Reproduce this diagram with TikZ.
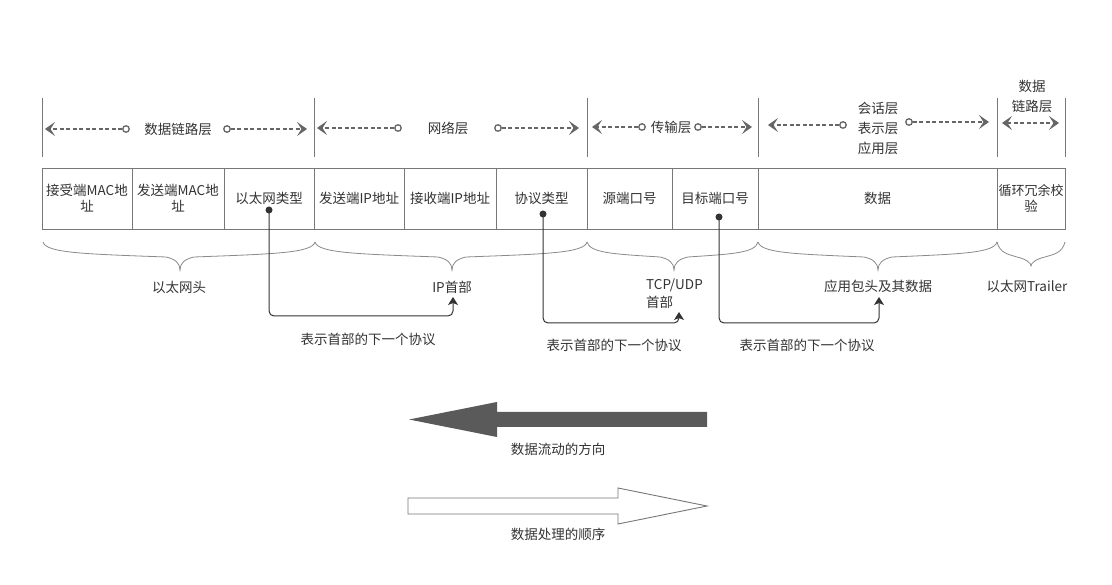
\documentclass[tikz,border=0pt]{standalone}
\usepackage{fontspec}
\setmainfont{Noto Sans CJK SC}
\usetikzlibrary{arrows.meta}
\definecolor{txt}{HTML}{333333}
\definecolor{ln}{HTML}{777777}
\definecolor{dl}{HTML}{666666}
\definecolor{arr}{HTML}{5A5A5A}
\definecolor{brc}{HTML}{8A8A8A}
\newcommand\mybrace[4]{%
\draw[bracel] (#1,242) .. controls ({#1+3},253) and ({#1+0.3*(#2-#1)},254) .. ({#2-14},257) .. controls ({#2-5},259) and (#2,263) .. (#2,#4) .. controls (#2,263) and ({#2+5},259) .. ({#2+14},257) .. controls ({#3-0.3*(#3-#2)},254) and ({#3-3},253) .. (#3,242);}
\begin{document}
\begin{tikzpicture}[x=1pt,y=-1pt,
 every node/.style={font=\fontsize{13.5}{16}\selectfont, text=txt, inner sep=0pt},
 cell/.style={draw=ln, line width=0.9pt, minimum height=61pt, align=center},
 sep/.style={draw=ln, line width=0.9pt},
 tipd/.tip={Stealth[length=10pt,width=14pt,inset=4.5pt]},
 dasharr/.style={draw=dl, line width=1.6pt, dash pattern=on 4pt off 2.5pt, -tipd},
 dasharrb/.style={draw=dl, line width=1.6pt, dash pattern=on 4pt off 2.5pt, tipd-tipd},
 ring/.style={circle, draw=dl, fill=white, line width=1.3pt, minimum size=6.5pt},
 dotn/.style={circle, fill=txt, minimum size=7pt},
 conn/.style={draw=txt, line width=1pt, rounded corners=5pt, -{Stealth[length=8pt,width=10pt,inset=2pt]}},
 bracel/.style={draw=brc, line width=0.8pt},
]
\useasboundingbox (0,0) rectangle (1112,585);
\fill[white] (0,0) rectangle (1112,585);

% layer separators
\foreach \x in {42,314,587,758,997,1065} \draw[sep] (\x,98) -- (\x,157);

% layer labels and arrows
\node (l1) at (178,129) {数据链路层};
\node[ring] (r1a) at (126,129) {}; \coordinate (e1a) at (45,129);
\node[ring] (r1b) at (227,129) {}; \coordinate (e1b) at (307,129);
\draw[dasharr] (r1a) -- (e1a); \draw[dasharr] (r1b) -- (e1b);

\node (l2) at (448,128) {网络层};
\node[ring] (r2a) at (398,128) {}; \coordinate (e2a) at (317,128);
\node[ring] (r2b) at (498,128) {}; \coordinate (e2b) at (579,128);
\draw[dasharr] (r2a) -- (e2a); \draw[dasharr] (r2b) -- (e2b);

\node (l3) at (671,127) {传输层};
\node[ring] (r3a) at (642,127) {}; \coordinate (e3a) at (592,127);
\node[ring] (r3b) at (698,127) {}; \coordinate (e3b) at (752,127);
\draw[dasharr] (r3a) -- (e3a); \draw[dasharr] (r3b) -- (e3b);

\node (l4a) at (878,108) {会话层};
\node (l4b) at (878,128) {表示层};
\node (l4c) at (878,148) {应用层};
\node[ring] (r4a) at (843,125) {}; \coordinate (e4a) at (768,125);
\node[ring] (r4b) at (909,122) {}; \coordinate (e4b) at (989,122);
\draw[dasharr] (r4a) -- (e4a); \draw[dasharr] (r4b) -- (e4b);

\node (l5a) at (1032,86) {数据};
\node (l5b) at (1032,106) {链路层};
\coordinate (e5a) at (1002,123); \coordinate (e5b) at (1059,123);
\draw[dasharrb] (e5a) -- (e5b);

% cells
\node[cell, minimum width=90pt] (c1) at (87,198.5) {接受端MAC地\\址};
\node[cell, minimum width=92pt] (c2) at (178,198.5) {发送端MAC地\\址};
\node[cell, minimum width=90pt] (c3) at (269,198.5) {以太网类型};
\node[cell, minimum width=90pt] (c4) at (359,198.5) {发送端IP地址};
\node[cell, minimum width=92pt] (c5) at (450,198.5) {接收端IP地址};
\node[cell, minimum width=91pt] (c6) at (541.5,198.5) {协议类型};
\node[cell, minimum width=85pt] (c7) at (629.5,198.5) {源端口号};
\node[cell, minimum width=86pt] (c8) at (715,198.5) {目标端口号};
\node[cell, minimum width=239pt] (c9) at (877.5,198.5) {数据};
\node[cell, minimum width=68pt] (c10) at (1031,198.5) {\fontsize{13}{16}\selectfont 循环冗余校\\验};

% braces
\mybrace{43}{180}{315}{270}
\mybrace{315}{452}{587}{270}
\mybrace{587}{674}{758}{270}
\mybrace{758}{878}{997}{270}
\mybrace{997}{1031}{1065}{266}

% brace labels
\node (h1) at (179,287) {以太网头};
\node (h2) at (452,287) {IP首部};
\node[anchor=west] (h3a) at (646,285) {TCP/UDP};
\node[anchor=west] (h3b) at (646,302) {首部};
\node (h4) at (878,286) {应用包头及其数据};
\node (h5) at (1027,286) {以太网Trailer};

% connectors
\node[dotn] (d1) at (269,210) {};
\node[dotn] (d2) at (543,214) {};
\node[dotn] (d3) at (719,217) {};
\coordinate (b1) at (269,316); \coordinate (t1) at (453,297);
\coordinate (b2) at (543,323); \coordinate (t2) at (679,312);
\coordinate (b3) at (719,323); \coordinate (t3) at (879,297);
\draw[conn] (d1.center) -- (b1) -| (t1);
\draw[conn] (d2.center) -- (b2) -| (t2);
\draw[conn] (d3.center) -- (b3) -| (t3);
\node (p1) at (368,339) {表示首部的下一个协议};
\node (p2) at (614,345) {表示首部的下一个协议};
\node (p3) at (807,345) {表示首部的下一个协议};

% big arrows
\fill[arr] (707,412) -- (497,412) -- (497,402) -- (409,419.5) -- (497,437) -- (497,427) -- (707,427) -- cycle;
\node (f1) at (558,449) {数据流动的方向};
\draw[ln, line width=0.9pt, fill=white] (408,498) -- (618,498) -- (618,488) -- (707,506) -- (618,524) -- (618,514) -- (408,514) -- cycle;
\node (f2) at (558,534) {数据处理的顺序};
\end{tikzpicture}
\end{document}
